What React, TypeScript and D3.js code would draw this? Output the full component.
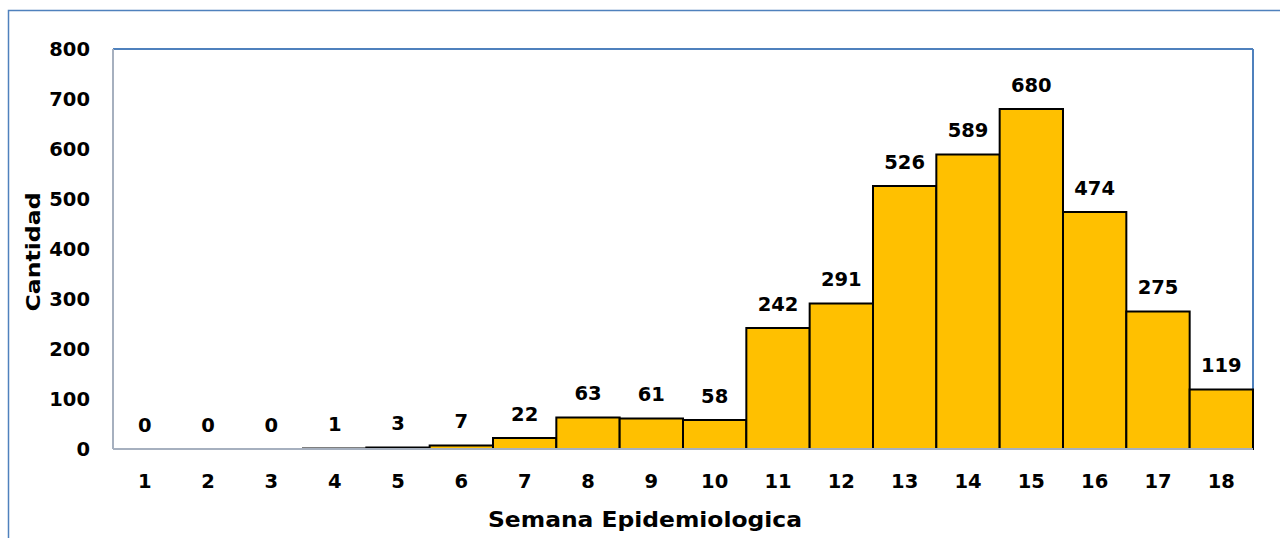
import React from "react";
import * as d3 from "d3";

const weeks = ["1","2","3","4","5","6","7","8","9","10","11","12","13","14","15","16","17","18"];
const counts = [0,0,0,1,3,7,22,63,61,58,242,291,526,589,680,474,275,119];
const yTicks = [0,100,200,300,400,500,600,700,800];

const W = 1280, H = 538;
const left = 113, right = 1253, top = 49, bottom = 449;
const FONT = "'Century Gothic', 'DejaVu Sans', sans-serif";

export default function App() {
  const x = d3.scaleBand().domain(weeks).range([left, right]).padding(0);
  const y = d3.scaleLinear().domain([0, 800]).range([bottom, top]);
  return (
    <svg width={W} height={H} style={{ position: "absolute", left: 0, top: 0, background: "#fff" }}>
      <rect x={8.5} y={10.5} width={1290} height={600} fill="#fff" stroke="#4f81bd" strokeWidth={1.5} />
      <line x1={left} y1={top} x2={right} y2={top} stroke="#4f81bd" strokeWidth={2} />
      <line x1={right} y1={top} x2={right} y2={bottom} stroke="#4f81bd" strokeWidth={2} />
      {weeks.map((w, i) => (
        <rect key={w} x={x(w)!} y={y(counts[i])} width={x.bandwidth()} height={bottom - y(counts[i])}
          fill="#ffc000" stroke="#000" strokeWidth={2} />
      ))}
      <line x1={left} y1={top} x2={left} y2={bottom} stroke="#a6b0bf" strokeWidth={2} />
      <line x1={left} y1={bottom} x2={right} y2={bottom} stroke="#a6b0bf" strokeWidth={2} />
      {yTicks.map(t => (
        <text key={t} x={90} y={y(t)} dy="0.36em" textAnchor="end" fontFamily={FONT} fontWeight="bold" fontSize={19.5} fill="#000">{t}</text>
      ))}
      {weeks.map((w, i) => (
        <g key={w}>
          <text x={x(w)! + x.bandwidth() / 2} y={481} dy="0.36em" textAnchor="middle" fontFamily={FONT} fontWeight="bold" fontSize={19.5} fill="#000">{w}</text>
          <text x={x(w)! + x.bandwidth() / 2} y={y(counts[i]) - 24.5} dy="0.36em" textAnchor="middle" fontFamily={FONT} fontWeight="bold" fontSize={19.5} fill="#000">{counts[i]}</text>
        </g>
      ))}
      <text transform={`translate(33,${252}) rotate(-90)`} dy="0.36em" textAnchor="middle" textLength={119} lengthAdjust="spacingAndGlyphs" fontFamily={FONT} fontWeight="bold" fontSize={20} fill="#000">Cantidad</text>
      <text x={645} y={519} dy="0.36em" textAnchor="middle" textLength={314} lengthAdjust="spacingAndGlyphs" fontFamily={FONT} fontWeight="bold" fontSize={22} fill="#000">Semana Epidemiologica</text>
    </svg>
  );
}
